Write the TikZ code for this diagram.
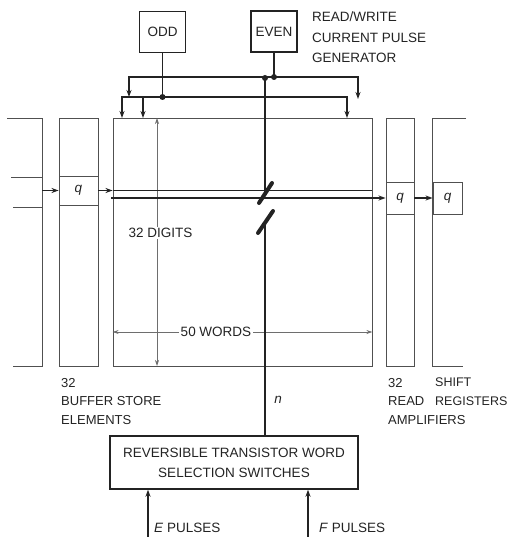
\documentclass[tikz,border=0pt]{standalone}
\usepackage{fontspec}
\setmainfont{Liberation Sans}
\usepackage{tikz}
\usetikzlibrary{arrows.meta, positioning, calc}
\definecolor{inkdark}{RGB}{35,35,35}
\definecolor{inkmid}{RGB}{80,80,80}
\definecolor{inklight}{RGB}{110,110,110}

\begin{document}
\begin{tikzpicture}[
    x=1pt, y=-1pt,
    >={Stealth[length=7pt, width=5pt]},
    every node/.style={font=\fontsize{13.5}{18.5}\selectfont, text=inkdark},
    genbox/.style={rectangle, draw=inkdark, line width=1.3pt, minimum width=46pt, minimum height=41pt},
    cell/.style={rectangle, draw=inkmid, line width=0.9pt, inner sep=0pt},
    switchbox/.style={rectangle, draw=inkdark, line width=1.4pt, minimum width=248pt, minimum height=53pt, align=center, font=\fontsize{13.5}{20}\selectfont},
    wire/.style={draw=inkdark, line width=1.6pt},
    thinwire/.style={draw=inkdark, line width=1.2pt},
    dimline/.style={draw=inklight, line width=0.7pt, {Stealth[length=6pt, width=4pt]}-{Stealth[length=6pt, width=4pt]}},
    slash/.style={draw=inkdark, line width=4pt, line cap=round},
    caption/.style={inner sep=0pt, align=left, font=\fontsize{13}{18.5}\selectfont}
]
\useasboundingbox (0,0) rectangle (509,537);

% pulse generators
\node[genbox] (odd) at (162.5,32) {ODD};
\node[genbox] (even) at (274,31.5) {EVEN};
\node[caption, anchor=north west, font=\fontsize{13.5}{20.5}\selectfont] (rwlabel) at (312,12) {READ/WRITE\\CURRENT PULSE\\GENERATOR};

% store and columns
\node[cell, minimum width=259pt, minimum height=248pt] (store) at (242.5,242) {};
\node[cell, minimum width=39pt, minimum height=248pt] (buf) at (78.5,242) {};
\node[cell, minimum width=39pt, minimum height=29pt] (bq) at (78.5,190.5) {\textit{q}};
\node[cell, minimum width=28pt, minimum height=248pt] (amp) at (400,242) {};
\node[cell, minimum width=28pt, minimum height=32pt] (rq) at (400,198) {\textit{q}};
\node[cell, minimum width=29pt, minimum height=32pt] (sq) at (447.5,198) {\textit{q}};

% partly shown columns at both sides
\draw[cell] (7,118) -- (42,118) -- (42,366) -- (13,366);
\draw[cell] (11,177) -- (42,177);
\draw[cell] (13,207) -- (42,207);
\draw[cell] (466,118) -- (432,118) -- (432,366) -- (463,366);

\node[switchbox] (sw) at (234,462.5) {REVERSIBLE TRANSISTOR WORD\\SELECTION SWITCHES};

% bus levels and junctions
\coordinate (hiy) at (0,77);
\coordinate (loy) at (0,97);
\coordinate (ej) at (even.south |- hiy);
\coordinate (oj) at (odd.south |- loy);
\coordinate (cj) at (265,78);
\coordinate (hl) at (129,97);
\coordinate (hr) at (358,99);
\coordinate (la) at (122,118);
\coordinate (lb) at (143,118);
\coordinate (lc) at (347,118);

\draw[wire] (even) -- (ej);
\draw[wire] (odd) -- (oj);
\draw[wire, <->] (hl) |- (hiy -| hr) -- (hr);
\draw[wire, <->] (la) |- (loy -| lc) -- (lc);
\draw[wire, ->] (loy -| lb) -- (lb);

% dimensions
\coordinate (wy) at (0,332);
\draw[dimline] (157,118) -- (157,366);
\node[fill=white, inner sep=1.5pt] (digits) at (160.5,233) {32 DIGITS};
\draw[dimline] (store.west |- wy) -- (store.east |- wy);
\node[fill=white, inner sep=1.5pt] (words) at (216,332) {50 WORDS};

% digit line through the store
\coordinate (prev) at (42,190.5);
\coordinate (ret) at (111,198);
\draw[thinwire, ->] (prev) -- (bq.west);
\draw[thinwire, ->] (bq.east) -- (bq.east -| store.west);
\draw[thinwire] (bq.east -| store.west) -- (bq.east -| store.east);
\draw[thinwire, ->] (ret) -- (rq.west);
\draw[thinwire, ->] (rq.east) -- (sq.west);

% word line with break
\coordinate (brk1) at (265,193);
\coordinate (brk2) at (265,222);
\draw[wire] (cj) -- (brk1);
\draw[wire] (brk2) -- (sw.north -| brk2);
\draw[slash] ($(brk1)+(-6,10)$) -- ($(brk1)+(7,-10)$);
\draw[slash] ($(brk2)+(-7,11)$) -- ($(brk2)+(8,-11)$);
\node[font=\fontsize{13.5}{16}\selectfont\itshape] (nlab) at (278,400) {n};

\fill[inkdark] (oj) circle (3pt);
\fill[inkdark] (cj) circle (3pt);
\fill[inkdark] (ej) circle (3pt);

% pulse inputs
\coordinate (ep) at (148,537);
\coordinate (fp) at (308,537);
\draw[wire, ->] (ep) -- (sw.south -| ep);
\draw[wire, ->] (fp) -- (sw.south -| fp);
\node[caption, anchor=west, font=\fontsize{13.5}{16}\selectfont] (elab) at (154,528) {\textit{E} PULSES};
\node[caption, anchor=west, font=\fontsize{13.5}{16}\selectfont] (flab) at (319,528) {\textit{F} PULSES};

% column captions
\node[caption, anchor=north west] (buflab) at (61,378) {32\\BUFFER STORE\\ELEMENTS};
\node[caption, anchor=north west] (amplab) at (388,378) {32\\READ\\AMPLIFIERS};
\node[caption, anchor=north west, font=\fontsize{12.5}{18.5}\selectfont] (shiftlab) at (435,378) {SHIFT\\REGISTERS};

\end{tikzpicture}
\end{document}
